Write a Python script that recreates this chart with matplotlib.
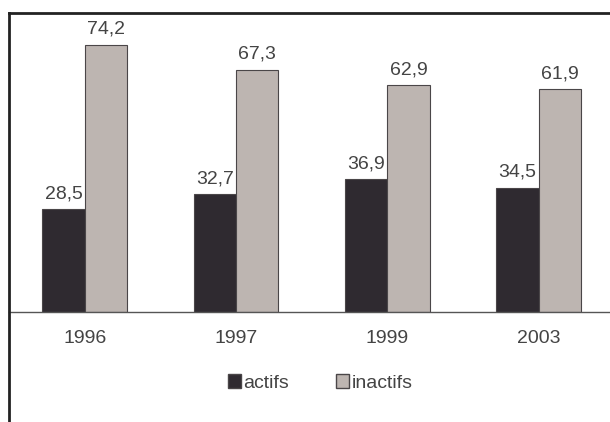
import matplotlib.pyplot as plt
from matplotlib.lines import Line2D
from matplotlib.patches import Patch
import numpy as np

years = ["1996", "1997", "1999", "2003"]
actifs = [28.5, 32.7, 36.9, 34.5]
inactifs = [74.2, 67.3, 62.9, 61.9]

dark = "#2f2a30"
light = "#bdb5b1"
edge = "#4a4648"
text_col = "#444444"

plt.rcParams["font.family"] = ["Liberation Sans", "DejaVu Sans"]

fig = plt.figure(figsize=(6.1, 4.22), dpi=100)
W, H = 610, 422
ax = fig.add_axes([9 / W, 1 - 312 / H, 1 - 9 / W, (312 - 13) / H])

x = np.arange(len(years))
w = 0.28
b1 = ax.bar(x - w / 2, actifs, w, color=dark, edgecolor=edge, linewidth=0.8)
b2 = ax.bar(x + w / 2, inactifs, w, color=light, edgecolor=edge, linewidth=0.8)

def fmt(v):
    return f"{v:.1f}".replace(".", ",")

for bars, vals in ((b1, actifs), (b2, inactifs)):
    for r, v in zip(bars, vals):
        ax.annotate(fmt(v), (r.get_x() + r.get_width() / 2, v),
                    xytext=(0, 7), textcoords="offset pixels",
                    ha="center", va="bottom", fontsize=14, color=text_col)

ax.set_xlim(-0.5, 3.47)
ax.set_ylim(0, 83)
ax.set_xticks(x)
ax.set_xticklabels(years, fontsize=14, color=text_col)
ax.tick_params(axis="x", length=0, pad=13)
ax.set_yticks([])

ax.spines["right"].set_visible(False)
ax.spines["left"].set_visible(False)
ax.spines["top"].set_linewidth(2)
ax.spines["top"].set_color("#222222")
ax.spines["bottom"].set_linewidth(1)
ax.spines["bottom"].set_color("#555555")

# left frame line running down past the axis
fig.add_artist(Line2D([9 / W, 9 / W], [0, 1 - 13 / H], color="#222222",
                      linewidth=2, transform=fig.transFigure))

handles = [Patch(facecolor=dark, edgecolor=edge, label="actifs"),
           Patch(facecolor=light, edgecolor=edge, label="inactifs")]
fig.legend(handles=handles, loc="center", bbox_to_anchor=(320 / W, 1 - 383 / H),
           ncol=2, frameon=False, fontsize=14, handlelength=0.7,
           handleheight=0.7, handletextpad=0.1, columnspacing=2.4,
           labelcolor=text_col)

fig.savefig("out.png", dpi=100)
